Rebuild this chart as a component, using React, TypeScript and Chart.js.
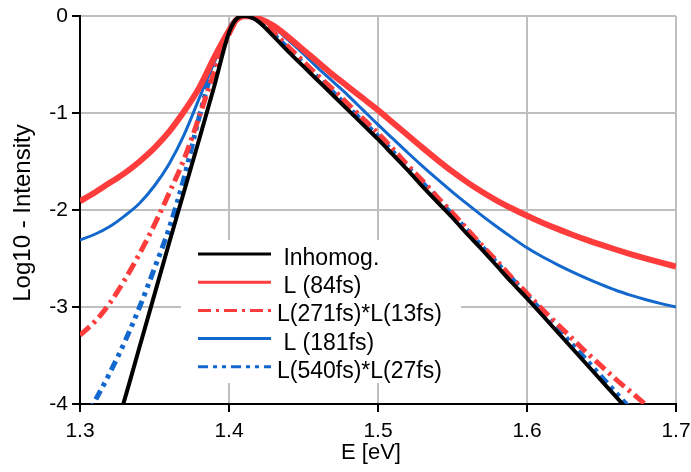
import React, { useEffect, useRef } from 'react';
import { Chart, registerables } from 'chart.js';

Chart.register(...registerables);

const FONT = '"Liberation Sans", Arial, sans-serif';

// Photon energy grid [eV]
const energy = [
  1.30, 1.31, 1.32, 1.33, 1.34, 1.35, 1.36, 1.37, 1.38, 1.39, 1.40, 1.405, 1.41, 1.415, 1.42,
  1.43, 1.44, 1.45, 1.46, 1.47, 1.48, 1.49, 1.50, 1.51, 1.52, 1.53, 1.54, 1.55, 1.56, 1.57,
  1.58, 1.59, 1.60, 1.61, 1.62, 1.63, 1.64, 1.65, 1.66, 1.67, 1.68, 1.69, 1.70,
];

const inhomog = [
  null, null, -4.45, -3.95, -3.41, -2.87, -2.33, -1.80, -1.27, -0.73, -0.17, -0.03, 0, -0.015, -0.06,
  -0.21, -0.37, -0.52, -0.67, -0.82, -0.97, -1.12, -1.27, -1.43, -1.59, -1.76, -1.92, -2.08, -2.25, -2.41,
  -2.58, -2.75, -2.91, -3.08, -3.25, -3.42, -3.59, -3.76, -3.93, -4.10, null, null, null,
];

const l84 = [
  -1.91, -1.82, -1.72, -1.62, -1.50, -1.36, -1.19, -0.98, -0.74, -0.43, -0.15, -0.04, -0.003, -0.003, -0.025,
  -0.10, -0.22, -0.35, -0.48, -0.61, -0.73, -0.85, -0.97, -1.10, -1.23, -1.36, -1.485, -1.605, -1.715, -1.815,
  -1.905, -1.985, -2.06, -2.128, -2.192, -2.252, -2.308, -2.36, -2.41, -2.457, -2.501, -2.543, -2.583,
];

const l271x13 = [
  -3.29, -3.15, -2.96, -2.72, -2.45, -2.15, -1.82, -1.47, -1.04, -0.58, -0.19, -0.05, 0, -0.01, -0.04,
  -0.17, -0.32, -0.47, -0.62, -0.76, -0.91, -1.06, -1.21, -1.37, -1.54, -1.70, -1.87, -2.03, -2.20, -2.37,
  -2.53, -2.70, -2.86, -3.02, -3.17, -3.32, -3.47, -3.61, -3.75, -3.88, -4.01, -4.14, null,
];

const l181 = [
  -2.31, -2.25, -2.17, -2.06, -1.93, -1.75, -1.52, -1.22, -0.85, -0.48, -0.16, -0.04, 0, -0.005, -0.03,
  -0.12, -0.25, -0.39, -0.54, -0.68, -0.82, -0.97, -1.12, -1.265, -1.41, -1.55, -1.685, -1.815, -1.94, -2.06,
  -2.175, -2.285, -2.39, -2.48, -2.56, -2.635, -2.705, -2.77, -2.83, -2.88, -2.925, -2.965, -3.00,
];

const l540x27 = [
  -4.25, -3.97, -3.68, -3.36, -3.00, -2.60, -2.18, -1.66, -1.04, -0.50, -0.14, -0.03, 0, -0.01, -0.05,
  -0.19, -0.34, -0.49, -0.64, -0.79, -0.94, -1.09, -1.24, -1.40, -1.56, -1.72, -1.89, -2.05, -2.21, -2.38,
  -2.55, -2.71, -2.88, -3.04, -3.21, -3.38, -3.55, -3.72, -3.89, -4.06, null, null, null,
];

const seriesLabels = [' Inhomog.', ' L (84fs)', 'L(271fs)*L(13fs)', ' L (181fs)', 'L(540fs)*L(27fs)'];
const xTickValues = [1.3, 1.4, 1.5, 1.6, 1.7];
const yTickValues = [0, -1, -2, -3, -4];
const xTitle = 'E [eV]';
const yTitle = 'Log10 - Intensity';

const RED = '#FF3C3C';
const BLUE = '#1268CC';
const GRID = '#BFBFBF';

const toPoints = (arr: (number | null)[]) => energy.map((x, i) => ({ x, y: arr[i] }));

const overlayPlugin = {
  id: 'overlay',
  afterDraw(chart: any) {
    const ctx = chart.ctx as CanvasRenderingContext2D;
    ctx.save();
    // legend box
    ctx.fillStyle = '#ffffff';
    ctx.fillRect(181, 240, 280, 143);
    chart.data.datasets.forEach((ds: any, i: number) => {
      const y = 254 + i * 28.2;
      ctx.beginPath();
      ctx.setLineDash(ds.borderDash || []);
      ctx.strokeStyle = ds.borderColor;
      ctx.lineWidth = 3;
      ctx.moveTo(198, y);
      ctx.lineTo(271, y);
      ctx.stroke();
      ctx.setLineDash([]);
      ctx.fillStyle = '#000';
      ctx.font = `23px ${FONT}`;
      ctx.textAlign = 'left';
      ctx.textBaseline = 'alphabetic';
      ctx.fillText(ds.label, 277, y + 11);
    });
    // axis titles
    ctx.fillStyle = '#000';
    ctx.font = `22px ${FONT}`;
    ctx.textAlign = 'center';
    ctx.textBaseline = 'middle';
    ctx.fillText(xTitle, 371, 453);
    ctx.font = `24px ${FONT}`;
    ctx.translate(23, 213);
    ctx.rotate(-Math.PI / 2);
    ctx.fillText(yTitle, 0, 0);
    ctx.restore();
  },
};

export default function App() {
  const ref = useRef<HTMLCanvasElement>(null);

  useEffect(() => {
    if (!ref.current) return;
    const common = {
      pointRadius: 0,
      pointHoverRadius: 0,
      fill: false,
      cubicInterpolationMode: 'monotone' as const,
      spanGaps: false,
    };
    const chart = new Chart(ref.current, {
      type: 'line',
      data: {
        datasets: [
          { ...common, label: seriesLabels[0], data: toPoints(inhomog), borderColor: '#000000', borderWidth: 4 },
          { ...common, label: seriesLabels[1], data: toPoints(l84), borderColor: RED, borderWidth: 6 },
          { ...common, label: seriesLabels[2], data: toPoints(l271x13), borderColor: RED, borderWidth: 5, borderDash: [13, 5, 3, 5] },
          { ...common, label: seriesLabels[3], data: toPoints(l181), borderColor: BLUE, borderWidth: 3 },
          { ...common, label: seriesLabels[4], data: toPoints(l540x27), borderColor: BLUE, borderWidth: 5, borderDash: [10, 5, 4, 5, 4, 5] },
        ] as any,
      },
      options: {
        responsive: false,
        animation: false,
        devicePixelRatio: 1,
        events: [],
        layout: { padding: { left: 0, top: 16, right: 15, bottom: 0 } },
        plugins: { legend: { display: false }, tooltip: { enabled: false }, title: { display: false } },
        scales: {
          x: {
            type: 'linear',
            min: 1.3,
            max: 1.7,
            afterBuildTicks: (s: any) => { s.ticks = xTickValues.map((v) => ({ value: v })); },
            afterFit: (s: any) => { s.height = 68; s.paddingLeft = 0; s.paddingRight = 0; },
            ticks: {
              color: '#000',
              font: { family: FONT, size: 21 },
              padding: 7,
              maxRotation: 0,
              autoSkip: false,
              callback: (v: any) => Number(v).toFixed(1),
            },
            grid: {
              color: (c: any) => (c.tick && c.tick.value === 1.3 ? 'rgba(0,0,0,0)' : GRID),
              lineWidth: 2,
              tickColor: '#000',
              tickLength: 8,
              tickWidth: 2,
            },
            border: { color: '#000', width: 2 },
          },
          y: {
            type: 'linear',
            min: -4,
            max: 0,
            afterBuildTicks: (s: any) => { s.ticks = yTickValues.map((v) => ({ value: v })); },
            afterFit: (s: any) => { s.width = 80; s.paddingTop = 0; s.paddingBottom = 0; },
            ticks: {
              color: '#000',
              font: { family: FONT, size: 21 },
              padding: 4,
              autoSkip: false,
              callback: (v: any) => String(Math.round(Number(v))),
            },
            grid: {
              color: (c: any) => (c.tick && c.tick.value === -4 ? 'rgba(0,0,0,0)' : GRID),
              lineWidth: 2,
              tickColor: '#000',
              tickLength: 8,
              tickWidth: 2,
            },
            border: { color: '#000', width: 2 },
          },
        },
      } as any,
      plugins: [overlayPlugin],
    });
    return () => chart.destroy();
  }, []);

  return (
    <div style={{ position: 'absolute', left: 0, top: 0, width: 691, height: 472, background: '#fff' }}>
      <canvas ref={ref} width={691} height={472} style={{ display: 'block', width: 691, height: 472 }} />
    </div>
  );
}
